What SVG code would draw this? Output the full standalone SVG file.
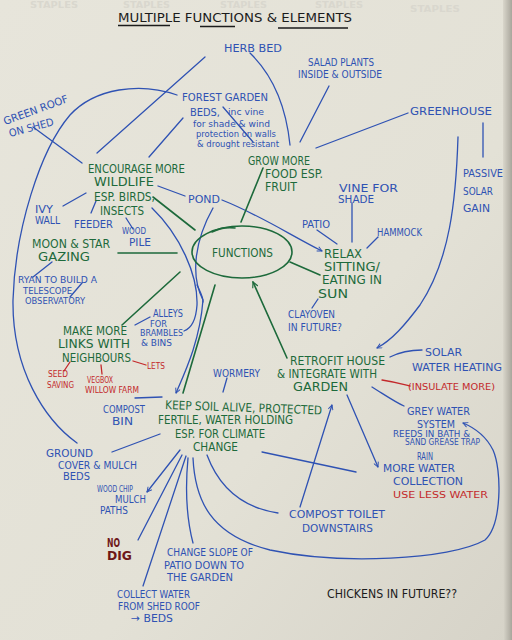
<svg xmlns="http://www.w3.org/2000/svg" width="512" height="640" viewBox="0 0 512 640">
<defs>
<linearGradient id="paper" x1="0" y1="0" x2="1" y2="1">
<stop offset="0" stop-color="#e7e5db"/>
<stop offset="0.6" stop-color="#e3e1d6"/>
<stop offset="1" stop-color="#d6d3c8"/>
</linearGradient>
<linearGradient id="edge" x1="0" y1="0" x2="1" y2="0">
<stop offset="0" stop-color="#d9d6cb"/>
<stop offset="1" stop-color="#a9a69c"/>
</linearGradient>
<marker id="ab" viewBox="0 0 10 10" refX="9" refY="5" markerWidth="6" markerHeight="6" orient="auto-start-reverse" markerUnits="userSpaceOnUse">
<path d="M1,1 L9,5 L1,9" fill="none" stroke="#2f52b3" stroke-width="1.6"/>
</marker>
<marker id="ag" viewBox="0 0 10 10" refX="9" refY="5" markerWidth="7" markerHeight="7" orient="auto-start-reverse" markerUnits="userSpaceOnUse">
<path d="M1,1 L9,5 L1,9" fill="none" stroke="#1d6a3b" stroke-width="1.6"/>
</marker>
</defs>
<style>
text{font-family:"DejaVu Sans Condensed","DejaVu Sans","Liberation Sans",sans-serif;}
.k{fill:#1b1b1b;font-size:12px;}
.g{fill:#1d6a3b;font-size:12px;}
.b{fill:#2f52b3;font-size:10.5px;}
.bs{fill:#2f52b3;font-size:8px;}
.r{fill:#c3292b;font-size:9.5px;}
.dr{fill:#6e1717;font-size:12px;font-weight:bold;}
.faint{fill:#d9d7ce;font-size:8px;font-weight:bold;}
.cb{fill:none;stroke:#2f52b3;stroke-width:1.3;stroke-linecap:round;}
.cg{fill:none;stroke:#1d6a3b;stroke-width:1.6;stroke-linecap:round;}
.cr{fill:none;stroke:#c3292b;stroke-width:1.3;stroke-linecap:round;}
.ul{fill:none;stroke:#1b1b1b;stroke-width:1.5;}
</style>
<rect width="512" height="640" fill="url(#paper)"/>
<rect x="503" y="0" width="9" height="640" fill="url(#edge)"/>
<g id="showthrough">
<text class="faint" x="30" y="8" textLength="48" lengthAdjust="spacingAndGlyphs">STAPLES</text>
<text class="faint" x="123" y="8" textLength="47" lengthAdjust="spacingAndGlyphs">STAPLES</text>
<text class="faint" x="220" y="8" textLength="47" lengthAdjust="spacingAndGlyphs">STAPLES</text>
<text class="faint" x="315" y="8" textLength="48" lengthAdjust="spacingAndGlyphs">STAPLES</text>
<text class="faint" x="410" y="12" textLength="50" lengthAdjust="spacingAndGlyphs">STAPLES</text>
</g>
<g id="title">
<text class="k" x="118" y="22" textLength="234" lengthAdjust="spacingAndGlyphs">MULTIPLE FUNCTIONS &amp; ELEMENTS</text>
<path class="ul" d="M118,25.5 L170,25.5 M200,26.5 L235,26.5 M278,28 L348,28"/>
</g>
<g id="connectors">
<path class="cb" d="M250,53 Q284,86 290,145"/>
<path class="cb" d="M329,86 L300,142"/>
<path class="cb" d="M408,113 L316,148"/>
<path class="cb" d="M205,57 L97,153"/>
<path class="cb" d="M177,95 C140,82 95,88 70,115 C40,150 15,230 13,300 C12,370 45,420 77,443"/>
<path class="cb" d="M33,127 L82,163"/>
<path class="cb" d="M183,118 L149,157"/>
<path class="cb" stroke-width="0.8" d="M223,107 L253,142"/>
<path class="cb" d="M63,206 L86,193"/>
<path class="cb" d="M96,201 L91,213"/>
<path class="cb" d="M126,218 L133,229"/>
<path class="cb" d="M158,186 L185,196"/>
<path class="cb" marker-end="url(#ab)" d="M222,200 C260,215 290,235 322,251"/>
<path class="cb" d="M152,208 C180,235 198,275 197,305 C196,320 192,328 184,331"/>
<path class="cb" marker-end="url(#ab)" d="M213,208 C195,240 190,275 203,300 C200,340 186,370 176,393"/>
<path class="cb" stroke-width="2.4" d="M197,285 C200,292 203,296 203,302"/>
<path class="cb" d="M317,230 L337,244"/>
<path class="cb" d="M352,203 L352,242"/>
<path class="cb" d="M378,237 L367,248"/>
<path class="cb" d="M318,299 L312,308"/>
<path class="cb" marker-end="url(#ab)" d="M458,137 C456,200 450,260 420,305 C405,325 392,340 377,348"/>
<path class="cb" d="M483,123 L483,157"/>
<path class="cb" d="M390,357 C400,352 410,350 422,350"/>
<path class="cb" d="M372,387 C385,395 395,402 404,406"/>
<path class="cb" marker-end="url(#ab)" d="M347,395 L378,467"/>
<path class="cb" marker-end="url(#ab)" d="M193,458 C195,500 210,535 270,550 C340,565 450,560 485,540 C502,525 502,470 493,450 C486,436 475,428 463,423"/>
<path class="cb" marker-end="url(#ab)" d="M300,507 L332,405"/>
<path class="cb" d="M262,452 L356,472"/>
<path class="cb" d="M135,398 L162,397"/>
<path class="cb" d="M112,452 L160,434"/>
<path class="cb" d="M227,378 L223,392"/>
<path class="cb" d="M135,325 L150,317"/>
<path class="cb" d="M52,262 L33,277"/>
<path class="cb" stroke-width="0.9" d="M82,283 L70,297"/>
<path class="cb" marker-end="url(#ab)" d="M180,450 L147,492"/>
<path class="cb" d="M182,455 L138,540"/>
<path class="cb" d="M186,456 L143,586"/>
<path class="cb" d="M188,458 C185,490 187,520 193,543"/>
<path class="cb" d="M207,455 C220,490 245,508 278,513"/>
<path class="cg" d="M153,197 L195,230"/>
<path class="cg" d="M118,253 L177,253"/>
<path class="cg" d="M263,168 L241,222"/>
<path class="cg" d="M290,262 L320,275"/>
<path class="cg" d="M180,272 L122,325"/>
<path class="cg" d="M215,285 L183,393"/>
<path class="cg" marker-end="url(#ag)" d="M287,358 L253,282"/>
<path class="cr" d="M133,361 L146,365"/>
<path class="cr" d="M70,362 L64,371"/>
<path class="cr" d="M101,365 L102,374"/>
<path class="cr" d="M382,380 C395,382 402,384 410,386"/>
</g>
<g id="functions">
<ellipse cx="242" cy="252" rx="50" ry="26" fill="none" stroke="#1d6a3b" stroke-width="1.6"/>
<path class="cg" stroke-width="1.1" d="M212,232 C220,228 228,227 235,228"/>
<text class="g" x="212" y="257" font-size="14" textLength="61" lengthAdjust="spacingAndGlyphs">FUNCTIONS</text>
</g>
<g id="herb-bed"><text class="b" x="224" y="52" font-size="11" textLength="58" lengthAdjust="spacingAndGlyphs">HERB BED</text></g>
<g id="salad">
<text class="b" x="308" y="66" font-size="9.5" textLength="66" lengthAdjust="spacingAndGlyphs">SALAD PLANTS</text>
<text class="b" x="298" y="78" font-size="9.5" textLength="84" lengthAdjust="spacingAndGlyphs">INSIDE &amp; OUTSIDE</text>
</g>
<g id="greenhouse"><text class="b" x="410" y="115" font-size="12" textLength="82" lengthAdjust="spacingAndGlyphs">GREENHOUSE</text></g>
<g id="green-roof">
<text class="b" x="5" y="125" transform="rotate(-20 5 125)" textLength="68" lengthAdjust="spacingAndGlyphs">GREEN ROOF</text>
<text class="b" x="10" y="137" transform="rotate(-15 10 137)" textLength="46" lengthAdjust="spacingAndGlyphs">ON SHED</text>
</g>
<g id="forest-garden">
<text class="b" x="182" y="101" textLength="86" lengthAdjust="spacingAndGlyphs">FOREST GARDEN</text>
<text class="b" x="190" y="116" font-size="11.5" textLength="30" lengthAdjust="spacingAndGlyphs">BEDS,</text>
<text class="bs" x="228" y="115" textLength="36" lengthAdjust="spacingAndGlyphs">inc vine</text>
<text class="bs" x="193" y="127" textLength="77" lengthAdjust="spacingAndGlyphs">for shade &amp; wind</text>
<text class="bs" x="196" y="137" textLength="80" lengthAdjust="spacingAndGlyphs">protection on walls</text>
<text class="bs" x="197" y="147" textLength="82" lengthAdjust="spacingAndGlyphs">&amp; drought resistant</text>
</g>
<g id="wildlife">
<text class="g" x="88" y="173" textLength="97" lengthAdjust="spacingAndGlyphs">ENCOURAGE MORE</text>
<text class="g" x="94" y="186" font-size="13" textLength="60" lengthAdjust="spacingAndGlyphs">WILDLIFE</text>
<text class="g" x="94" y="201" textLength="61" lengthAdjust="spacingAndGlyphs">ESP. BIRDS,</text>
<text class="g" x="100" y="215" textLength="44" lengthAdjust="spacingAndGlyphs">INSECTS</text>
</g>
<g id="pond"><text class="b" x="188" y="203" font-size="12" textLength="32" lengthAdjust="spacingAndGlyphs">POND</text></g>
<g id="grow-food">
<text class="g" x="248" y="165" textLength="62" lengthAdjust="spacingAndGlyphs">GROW MORE</text>
<text class="g" x="265" y="178" textLength="58" lengthAdjust="spacingAndGlyphs">FOOD ESP.</text>
<text class="g" x="265" y="191" textLength="32" lengthAdjust="spacingAndGlyphs">FRUIT</text>
</g>
<g id="vine">
<text class="b" x="339" y="192" textLength="59" lengthAdjust="spacingAndGlyphs">VINE FOR</text>
<text class="b" x="338" y="203" textLength="36" lengthAdjust="spacingAndGlyphs">SHADE</text>
</g>
<g id="patio"><text class="b" x="302" y="228" font-size="10" textLength="28" lengthAdjust="spacingAndGlyphs">PATIO</text></g>
<g id="hammock"><text class="b" x="377" y="236" font-size="9.5" textLength="45" lengthAdjust="spacingAndGlyphs">HAMMOCK</text></g>
<g id="passive-solar">
<text class="b" x="463" y="177" font-size="12" textLength="40" lengthAdjust="spacingAndGlyphs">PASSIVE</text>
<text class="b" x="463" y="195" font-size="12" textLength="30" lengthAdjust="spacingAndGlyphs">SOLAR</text>
<text class="b" x="463" y="212" font-size="12" textLength="27" lengthAdjust="spacingAndGlyphs">GAIN</text>
</g>
<g id="ivy-wall">
<text class="b" x="35" y="213" font-size="10" textLength="18" lengthAdjust="spacingAndGlyphs">IVY</text>
<text class="b" x="35" y="224" font-size="10" textLength="25" lengthAdjust="spacingAndGlyphs">WALL</text>
</g>
<g id="feeder"><text class="b" x="74" y="228" font-size="12" textLength="39" lengthAdjust="spacingAndGlyphs">FEEDER</text></g>
<g id="wood-pile">
<text class="bs" x="122" y="234" font-size="7.5" textLength="24" lengthAdjust="spacingAndGlyphs">WOOD</text>
<text class="b" x="129" y="246" font-size="9.5" textLength="22" lengthAdjust="spacingAndGlyphs">PILE</text>
</g>
<g id="moon-star">
<text class="g" x="32" y="248" textLength="78" lengthAdjust="spacingAndGlyphs">MOON &amp; STAR</text>
<text class="g" x="38" y="261" textLength="52" lengthAdjust="spacingAndGlyphs">GAZING</text>
</g>
<g id="relax">
<text class="g" x="324" y="258" font-size="11" textLength="38" lengthAdjust="spacingAndGlyphs">RELAX</text>
<text class="g" x="324" y="271" font-size="11" textLength="56" lengthAdjust="spacingAndGlyphs">SITTING/</text>
<text class="g" x="322" y="284" font-size="11" textLength="60" lengthAdjust="spacingAndGlyphs">EATING IN</text>
<text class="g" x="318" y="298" textLength="30" lengthAdjust="spacingAndGlyphs">SUN</text>
</g>
<g id="ryan">
<text class="bs" x="18" y="283" textLength="79" lengthAdjust="spacingAndGlyphs">RYAN TO BUILD A</text>
<text class="bs" x="23" y="294" textLength="49" lengthAdjust="spacingAndGlyphs">TELESCOPE</text>
<text class="bs" x="25" y="304" textLength="60" lengthAdjust="spacingAndGlyphs">OBSERVATORY</text>
</g>
<g id="alleys">
<text class="b" x="153" y="317" font-size="9.5" textLength="30" lengthAdjust="spacingAndGlyphs">ALLEYS</text>
<text class="bs" x="150" y="327" textLength="17" lengthAdjust="spacingAndGlyphs">FOR</text>
<text class="bs" x="140" y="336" textLength="43" lengthAdjust="spacingAndGlyphs">BRAMBLES</text>
<text class="bs" x="141" y="346" textLength="31" lengthAdjust="spacingAndGlyphs">&amp; BINS</text>
</g>
<g id="clay-oven">
<text class="b" x="288" y="318" font-size="10" textLength="47" lengthAdjust="spacingAndGlyphs">CLAYOVEN</text>
<text class="b" x="288" y="331" font-size="10" textLength="54" lengthAdjust="spacingAndGlyphs">IN FUTURE?</text>
</g>
<g id="neighbours">
<text class="g" x="63" y="335" textLength="64" lengthAdjust="spacingAndGlyphs">MAKE MORE</text>
<text class="g" x="58" y="348" textLength="72" lengthAdjust="spacingAndGlyphs">LINKS WITH</text>
<text class="g" x="62" y="362" textLength="69" lengthAdjust="spacingAndGlyphs">NEIGHBOURS</text>
</g>
<g id="lets"><text class="r" x="147" y="369" font-size="9" textLength="18" lengthAdjust="spacingAndGlyphs">LETS</text></g>
<g id="seed-saving">
<text class="r" x="48" y="377" font-size="8.5" textLength="20" lengthAdjust="spacingAndGlyphs">SEED</text>
<text class="r" x="47" y="388" font-size="8.5" textLength="27" lengthAdjust="spacingAndGlyphs">SAVING</text>
</g>
<g id="vegbox">
<text class="r" x="87" y="383" font-size="8.5" textLength="26" lengthAdjust="spacingAndGlyphs">VEGBOX</text>
<text class="r" x="85" y="393" font-size="8.5" textLength="54" lengthAdjust="spacingAndGlyphs">WILLOW FARM</text>
</g>
<g id="wormery"><text class="b" x="213" y="377" font-size="10" textLength="47" lengthAdjust="spacingAndGlyphs">WORMERY</text></g>
<g id="retrofit">
<text class="g" x="290" y="365" textLength="95" lengthAdjust="spacingAndGlyphs">RETROFIT HOUSE</text>
<text class="g" x="277" y="378" textLength="100" lengthAdjust="spacingAndGlyphs">&amp; INTEGRATE WITH</text>
<text class="g" x="293" y="391" textLength="55" lengthAdjust="spacingAndGlyphs">GARDEN</text>
</g>
<g id="solar-water">
<text class="b" x="425" y="356" textLength="37" lengthAdjust="spacingAndGlyphs">SOLAR</text>
<text class="b" x="412" y="371" font-size="12" textLength="90" lengthAdjust="spacingAndGlyphs">WATER HEATING</text>
</g>
<g id="insulate"><text class="r" x="408" y="390" font-size="11" textLength="87" lengthAdjust="spacingAndGlyphs">(INSULATE MORE)</text></g>
<g id="grey-water">
<text class="b" x="407" y="415" font-size="11.5" textLength="63" lengthAdjust="spacingAndGlyphs">GREY WATER</text>
<text class="b" x="417" y="428" font-size="11" textLength="38" lengthAdjust="spacingAndGlyphs">SYSTEM</text>
<text class="bs" x="393" y="437" font-size="7" textLength="77" lengthAdjust="spacingAndGlyphs">REEDS IN BATH &amp;</text>
<text class="bs" x="405" y="445" font-size="7" textLength="75" lengthAdjust="spacingAndGlyphs">SAND GREASE TRAP</text>
</g>
<g id="compost-bin">
<text class="b" x="103" y="413" font-size="10" textLength="42" lengthAdjust="spacingAndGlyphs">COMPOST</text>
<text class="b" x="112" y="425" textLength="21" lengthAdjust="spacingAndGlyphs">BIN</text>
</g>
<g id="keep-soil">
<text class="g" x="165" y="409" transform="rotate(2 165 409)" textLength="157" lengthAdjust="spacingAndGlyphs">KEEP SOIL ALIVE, PROTECTED</text>
<text class="g" x="158" y="424" textLength="135" lengthAdjust="spacingAndGlyphs">FERTILE, WATER HOLDING</text>
<text class="g" x="175" y="438" textLength="90" lengthAdjust="spacingAndGlyphs">ESP. FOR CLIMATE</text>
<text class="g" x="193" y="451" textLength="45" lengthAdjust="spacingAndGlyphs">CHANGE</text>
</g>
<g id="rain">
<text class="b" x="417" y="460" font-size="9" textLength="16" lengthAdjust="spacingAndGlyphs">RAIN</text>
<text class="b" x="383" y="472" textLength="72" lengthAdjust="spacingAndGlyphs">MORE WATER</text>
<text class="b" x="393" y="485" textLength="70" lengthAdjust="spacingAndGlyphs">COLLECTION</text>
<text class="r" x="393" y="498" font-size="10.5" textLength="95" lengthAdjust="spacingAndGlyphs">USE LESS WATER</text>
</g>
<g id="ground-cover">
<text class="b" x="46" y="457" font-size="11.5" textLength="47" lengthAdjust="spacingAndGlyphs">GROUND</text>
<text class="b" x="58" y="469" font-size="11.5" textLength="79" lengthAdjust="spacingAndGlyphs">COVER &amp; MULCH</text>
<text class="b" x="63" y="480" font-size="11.5" textLength="27" lengthAdjust="spacingAndGlyphs">BEDS</text>
</g>
<g id="wood-chip">
<text class="bs" x="97" y="492" font-size="7.5" textLength="36" lengthAdjust="spacingAndGlyphs">WOOD CHIP</text>
<text class="b" x="115" y="503" font-size="10" textLength="31" lengthAdjust="spacingAndGlyphs">MULCH</text>
<text class="b" x="100" y="514" font-size="10" textLength="28" lengthAdjust="spacingAndGlyphs">PATHS</text>
</g>
<g id="compost-toilet">
<text class="b" x="289" y="518" textLength="96" lengthAdjust="spacingAndGlyphs">COMPOST TOILET</text>
<text class="b" x="302" y="532" textLength="71" lengthAdjust="spacingAndGlyphs">DOWNSTAIRS</text>
</g>
<g id="no-dig">
<text class="dr" x="107" y="547" textLength="13" lengthAdjust="spacingAndGlyphs">NO</text>
<text class="dr" x="107" y="560" textLength="25" lengthAdjust="spacingAndGlyphs">DIG</text>
</g>
<g id="change-slope">
<text class="b" x="167" y="556" textLength="86" lengthAdjust="spacingAndGlyphs">CHANGE SLOPE OF</text>
<text class="b" x="164" y="569" textLength="80" lengthAdjust="spacingAndGlyphs">PATIO DOWN TO</text>
<text class="b" x="167" y="581" textLength="66" lengthAdjust="spacingAndGlyphs">THE GARDEN</text>
</g>
<g id="collect-water">
<text class="b" x="117" y="598" font-size="10" textLength="73" lengthAdjust="spacingAndGlyphs">COLLECT WATER</text>
<text class="b" x="118" y="610" font-size="10" textLength="82" lengthAdjust="spacingAndGlyphs">FROM SHED ROOF</text>
<text class="b" x="131" y="622" font-size="10" textLength="42" lengthAdjust="spacingAndGlyphs">→ BEDS</text>
</g>
<g id="chickens"><text class="k" x="327" y="598" font-size="11" textLength="130" lengthAdjust="spacingAndGlyphs">CHICKENS IN FUTURE??</text></g>
</svg>
